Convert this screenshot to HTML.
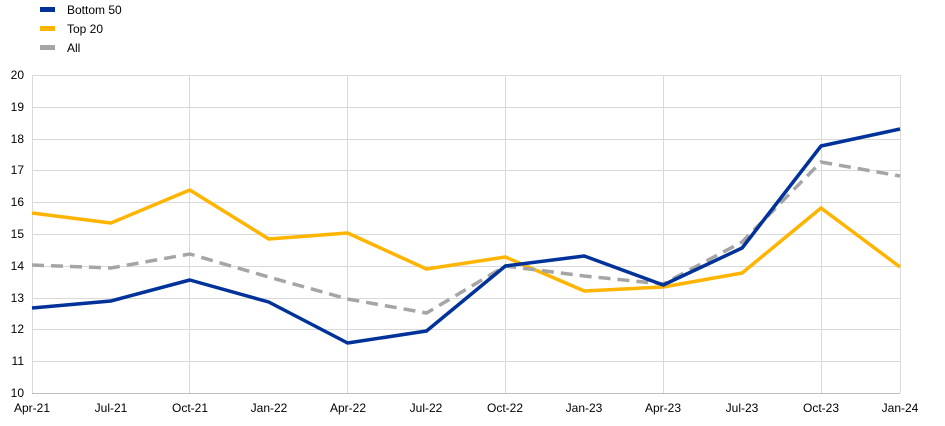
<!DOCTYPE html>
<html><head><meta charset="utf-8"><style>
html,body{margin:0;padding:0;background:#fff;}
text{font-family:"Liberation Sans",Arial,sans-serif;font-size:12px;fill:#000;}
</style></head><body>
<svg width="945" height="421" viewBox="0 0 945 421" xmlns="http://www.w3.org/2000/svg">
<rect width="945" height="421" fill="#fff"/>
<g stroke="#d9d9d9" stroke-width="1">
<line x1="32" y1="75.5" x2="900" y2="75.5"/>
<line x1="32" y1="107.5" x2="900" y2="107.5"/>
<line x1="32" y1="139.5" x2="900" y2="139.5"/>
<line x1="32" y1="170.5" x2="900" y2="170.5"/>
<line x1="32" y1="202.5" x2="900" y2="202.5"/>
<line x1="32" y1="234.5" x2="900" y2="234.5"/>
<line x1="32" y1="266.5" x2="900" y2="266.5"/>
<line x1="32" y1="298.5" x2="900" y2="298.5"/>
<line x1="32" y1="329.5" x2="900" y2="329.5"/>
<line x1="32" y1="361.5" x2="900" y2="361.5"/>
<line x1="32.5" y1="75" x2="32.5" y2="393"/>
<line x1="189.5" y1="75" x2="189.5" y2="393"/>
<line x1="347.5" y1="75" x2="347.5" y2="393"/>
<line x1="505.5" y1="75" x2="505.5" y2="393"/>
<line x1="663.5" y1="75" x2="663.5" y2="393"/>
<line x1="821.5" y1="75" x2="821.5" y2="393"/>
<line x1="900.5" y1="75" x2="900.5" y2="393"/>
</g>
<line x1="32" y1="393.5" x2="900" y2="393.5" stroke="#bfbfbf"/>
<g text-anchor="end">
<text x="24" y="79">20</text><text x="24" y="111">19</text><text x="24" y="143">18</text>
<text x="24" y="174">17</text><text x="24" y="206">16</text><text x="24" y="238">15</text>
<text x="24" y="270">14</text><text x="24" y="302">13</text><text x="24" y="333">12</text>
<text x="24" y="365">11</text><text x="24" y="397">10</text>
</g>
<g text-anchor="middle">
<text x="32" y="412">Apr-21</text><text x="111" y="412">Jul-21</text><text x="190" y="412">Oct-21</text>
<text x="269" y="412">Jan-22</text><text x="348" y="412">Apr-22</text><text x="426" y="412">Jul-22</text>
<text x="505" y="412">Oct-22</text><text x="584" y="412">Jan-23</text><text x="663" y="412">Apr-23</text>
<text x="742" y="412">Jul-23</text><text x="821" y="412">Oct-23</text><text x="900" y="412">Jan-24</text>
</g>
<polyline fill="none" stroke="#ffb400" stroke-width="3.5" stroke-linejoin="round" points="32,213 110.9,223 189.8,190 268.7,239 347.6,233 426.5,269 505.4,257 584.3,291 663.2,287 742.1,273 821,208 900,267"/>
<polyline fill="none" stroke="#a5a5a5" stroke-width="3.5" stroke-dasharray="12,7" points="32,265 110.9,268 189.8,254 268.7,277 347.6,299 426.5,313 505.4,266 584.3,276 663.2,284 742.1,242 821,162 900,176"/>
<polyline fill="none" stroke="#003299" stroke-width="3.5" stroke-linejoin="round" points="32,308 110.9,301 189.8,280 268.7,302 347.6,343 426.5,331 505.4,266 584.3,256 663.2,285 742.1,248 821,146 900,129"/>
<rect x="40" y="7" width="15" height="5" fill="#003299"/>
<text x="67" y="14">Bottom 50</text>
<rect x="40" y="26" width="15" height="5" fill="#ffb400"/>
<text x="67" y="33">Top 20</text>
<rect x="40" y="45" width="15" height="5" fill="#a5a5a5"/>
<text x="67" y="52">All</text>
</svg>
</body></html>
